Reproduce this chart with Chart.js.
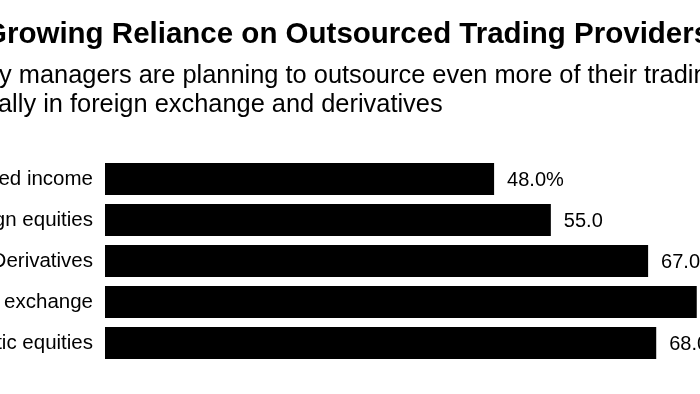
<!DOCTYPE html>
<html>
<head>
<meta charset="utf-8">
<script src="https://cdn.jsdelivr.net/npm/chart.js@4"></script>
<style>
  html, body { margin: 0; padding: 0; background: #fff; overflow: hidden; }
  #wrap { width: 700px; height: 394px; position: relative; }
</style>
</head>
<body>
<div id="wrap"><canvas id="c" width="700" height="394"></canvas></div>
<script>
const titleText = "Growing Reliance on Outsourced Trading Providers";
const subtitleLines = [
  "Many managers are planning to outsource even more of their trading,",
  "especially in foreign exchange and derivatives"
];
const categories = ["Fixed income", "Foreign equities", "Derivatives", "Foreign exchange", "Domestic equities"];
const shares = [48.0, 55.0, 67.0, 73.0, 68.0];
const FONT = "'Liberation Sans', Arial, Helvetica, sans-serif";

const headerPlugin = {
  id: 'header',
  afterDraw(chart) {
    const ctx = chart.ctx;
    ctx.save();
    ctx.fillStyle = '#000';
    ctx.textBaseline = 'alphabetic';
    ctx.textAlign = 'left';
    ctx.font = "bold 29.5px " + FONT;
    ctx.fillText(titleText, -16, 43);
    ctx.font = "25.4px " + FONT;
    let w1 = ctx.measureText("Man").width;
    ctx.fillText(subtitleLines[0], -1 - w1, 83);
    let w2 = ctx.measureText("especi").width;
    ctx.fillText(subtitleLines[1], -2 - w2, 112);
    ctx.restore();
  }
};

const valueLabelPlugin = {
  id: 'valueLabels',
  afterDatasetsDraw(chart) {
    const ctx = chart.ctx;
    const meta = chart.getDatasetMeta(0);
    ctx.save();
    ctx.font = "20px " + FONT;
    ctx.fillStyle = '#000';
    ctx.textAlign = 'left';
    ctx.textBaseline = 'middle';
    meta.data.forEach((bar, i) => {
      const v = shares[i].toFixed(1) + (i === 0 ? '%' : '');
      ctx.fillText(v, bar.x + 13, bar.y + 1);
    });
    ctx.restore();
  }
};

new Chart(document.getElementById('c'), {
  type: 'bar',
  data: {
    labels: categories,
    datasets: [{
      data: shares,
      backgroundColor: '#000',
      borderWidth: 0,
      barPercentage: 0.78,
      categoryPercentage: 1.0
    }]
  },
  options: {
    indexAxis: 'y',
    responsive: false,
    animation: false,
    devicePixelRatio: 1,
    layout: { padding: { top: 158.5, bottom: 30.5, left: 0, right: 0 } },
    plugins: {
      legend: { display: false },
      tooltip: { enabled: false },
      title: { display: false }
    },
    scales: {
      x: {
        display: false,
        min: 0,
        max: 73.4
      },
      y: {
        afterFit(scale) { scale.width = 105; },
        grid: { display: false, drawTicks: false },
        border: { display: false },
        ticks: {
          padding: 12,
          color: '#000',
          font: { family: FONT, size: 20.5 }
        }
      }
    }
  },
  plugins: [headerPlugin, valueLabelPlugin]
});
</script>
</body>
</html>
